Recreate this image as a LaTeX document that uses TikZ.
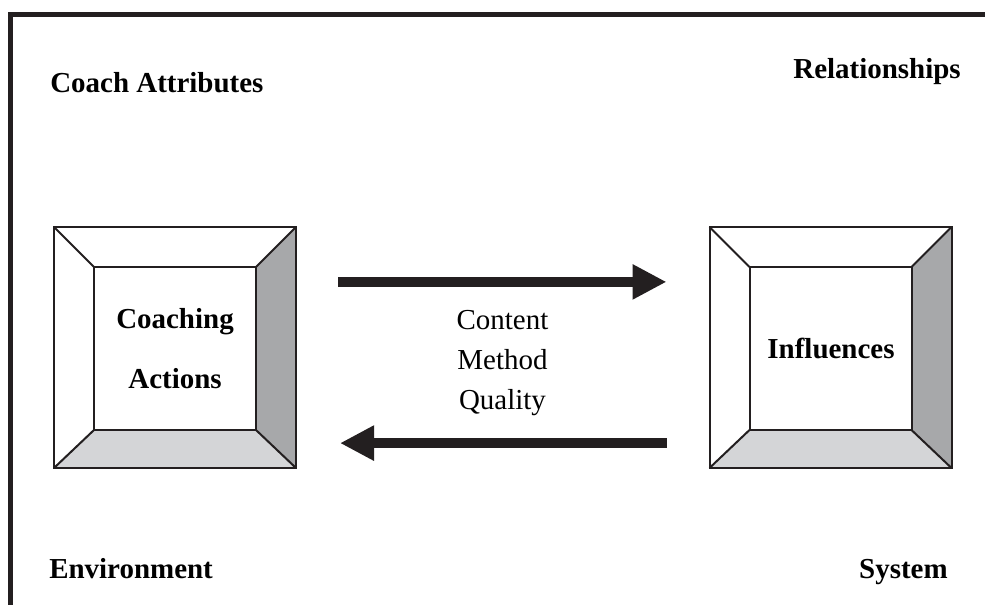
\documentclass[tikz,border=0pt]{standalone}
\usepackage{fontspec}
\setmainfont{Liberation Serif}
\usetikzlibrary{arrows.meta}
\definecolor{ink}{RGB}{35,31,32}
\definecolor{sideD}{RGB}{167,168,170}
\definecolor{sideL}{RGB}{212,213,215}

\begin{document}
\begin{tikzpicture}[x=0.25mm,y=-0.25mm,line join=miter,
  lbl/.style={font=\fontsize{20.6}{24}\selectfont\bfseries,inner sep=0pt,anchor=base west},
  outerbox/.style={draw=ink,line width=0.5mm,minimum width=60.5mm,minimum height=60.25mm,inner sep=0pt,outer sep=0pt},
  innerbox/.style={draw=ink,line width=0.5mm,minimum width=40.5mm,minimum height=40.75mm,inner sep=0pt,outer sep=0pt,align=center,font=\fontsize{20.6}{42.7}\selectfont\bfseries},
  bigarrow/.style={ink,line width=2.5mm,-{Triangle[length=8.5mm,width=8.25mm]}}]
\useasboundingbox (0,0) rectangle (985,605);
\draw[ink,line width=1.25mm] (985,15) -- (10,15) -- (10,605);
% corner labels
\node[lbl] (attr) at (50,93) {Coach Attributes};
\node[lbl,anchor=base east] (rel) at (961,79) {Relationships};
\node[lbl] (env) at (49,578) {Environment};
\node[lbl,anchor=base east] (sys) at (948,578) {System};
% bevelled boxes
\node[outerbox] (coach) at (175,347.5) {};
\node[outerbox] (infl) at (830.5,347.5) {};
\foreach \b in {coach,infl} {
  \fill[sideD] (\b.north east) -- (\b.south east) -- ++(-40,-38) -- ++(0,-163) -- cycle;
  \fill[sideL] (\b.south west) -- (\b.south east) -- ++(-40,-38) -- ++(-162,0) -- cycle;
  \draw[ink,line width=0.5mm] (\b.north west) -- ++(40,40) (\b.north east) -- ++(-40,40)
    (\b.south west) -- ++(40,-38) (\b.south east) -- ++(-40,-38);
  \draw[ink,line width=0.5mm] (\b.north west) rectangle (\b.south east);
}
\node[innerbox] (coachIn) at (175,348.5) {Coaching\\Actions};
\node[innerbox] (inflIn) at (831,348.5) {Influences};
% arrows
\draw[bigarrow,shorten <=10.5mm,shorten >=10.75mm] ([yshift=16.4mm]coach.east) -- ([yshift=16.4mm]infl.west);
\draw[bigarrow,shorten <=10.75mm,shorten >=11mm] ([yshift=-23.9mm]infl.west) -- ([yshift=-23.9mm]coach.east);
\node[font=\fontsize{20.6}{28.2}\selectfont,align=center,inner sep=0pt,anchor=base] (cmq) at (502.5,409) {Content\\Method\\Quality};
\end{tikzpicture}
\end{document}
